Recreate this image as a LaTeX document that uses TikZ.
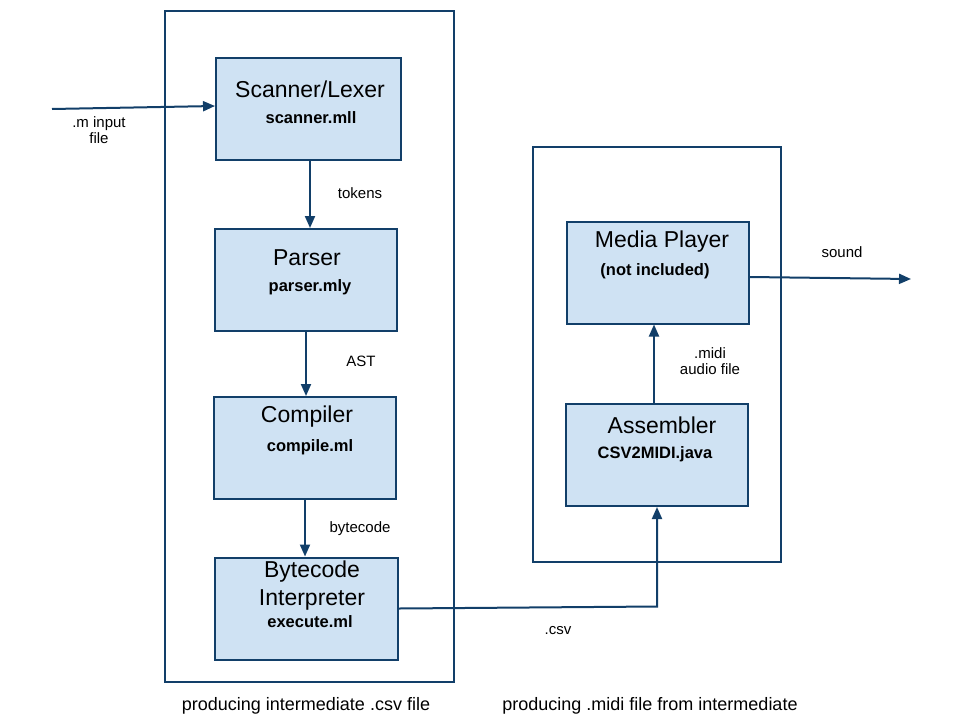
\documentclass[tikz,border=0pt]{standalone}
\usepackage{fontspec}
\setmainfont{Liberation Sans}
\usetikzlibrary{arrows.meta}
\definecolor{edge}{HTML}{123F69}
\definecolor{boxfill}{HTML}{CFE2F3}
\begin{document}
\begin{tikzpicture}[x=1pt,y=-1pt,
  stage/.style={draw=edge, line width=2pt, fill=boxfill, minimum width=182pt, minimum height=102pt},
  frame/.style={draw=edge, line width=2pt},
  arr/.style={draw=edge, line width=2pt, -{Triangle[length=12pt,width=10pt]}},
  title/.style={font=\fontsize{23}{25}\selectfont},
  sub/.style={font=\fontsize{16.5}{18}\selectfont\bfseries},
  lbl/.style={font=\fontsize{15}{18}\selectfont, align=center}]
\useasboundingbox (0,0) rectangle (960,720);
% outer frames
\node[frame, minimum width=289pt, minimum height=671pt] (left) at (309.5,346.5) {};
\node[frame, minimum width=248pt, minimum height=415pt] (right) at (657,354.5) {};
% stages
\node[stage, minimum width=185pt] (scan) at (308.5,109) {};
\node[stage] (parse) at (306,280) {};
\node[stage] (comp) at (305,448) {};
\node[stage, minimum width=183pt] (byte) at (306.5,608.5) {};
\node[stage] (media) at (657.5,272.5) {};
\node[stage] (asm) at (657,455) {};
% texts
\node[title] (scanT) at (310,89) {Scanner/Lexer};
\node[sub] (scanS) at (311,118) {scanner.mll};
\node[title] (parseT) at (307,258) {Parser};
\node[sub] (parseS) at (310,287) {parser.mly};
\node[title] (compT) at (307,417) {Compiler};
\node[sub] (compS) at (310,447) {compile.ml};
\node[title] (byteT1) at (312,572) {Bytecode};
\node[title] (byteT2) at (312,600) {Interpreter};
\node[sub] (byteS) at (310,622) {execute.ml};
\node[title] (mediaT) at (662,242) {Media Player};
\node[sub] (mediaS) at (655,271) {(not included)};
\node[title] (asmT) at (662,425) {Assembler};
\node[sub] (asmS) at (655,454) {CSV2MIDI.java};
% connectors
\coordinate (inp) at (52,109);
\coordinate (snd) at (911,279);
\draw[arr] (inp) -- ([yshift=3pt]scan.west);
\draw[arr] ([xshift=1.5pt]scan.south) -- ([xshift=4pt]parse.north);
\draw[arr] (parse.south) -- ([xshift=1pt]comp.north);
\draw[arr] (comp.south) -- ([xshift=-1.5pt]byte.north);
\draw[arr] (byte.east) -- ([yshift=2pt]byte.east -| asm.south) -- (asm.south);
\draw[arr] ([xshift=-3pt]asm.north) -- ([xshift=-3.5pt]media.south);
\draw[arr] ([yshift=-4.5pt]media.east) -- (snd);
% labels
\node[lbl] (inpL) at (99,130) {.m input\\[-2pt]file};
\node[lbl] (tokL) at (360,193) {tokens};
\node[lbl] (astL) at (361,361) {AST};
\node[lbl] (bcL) at (360,529) {bytecode};
\node[lbl] (csvL) at (558,631) {.csv};
\node[lbl] (midiL) at (710,361) {.midi\\[-2pt]audio file};
\node[lbl] (sndL) at (842,252) {sound};
\node[lbl, font=\fontsize{18}{20}\selectfont] (leftL) at (306,706) {producing intermediate .csv file};
\node[lbl, font=\fontsize{18}{20}\selectfont] (rightL) at (650,706) {producing .midi file from intermediate};
\end{tikzpicture}
\end{document}
